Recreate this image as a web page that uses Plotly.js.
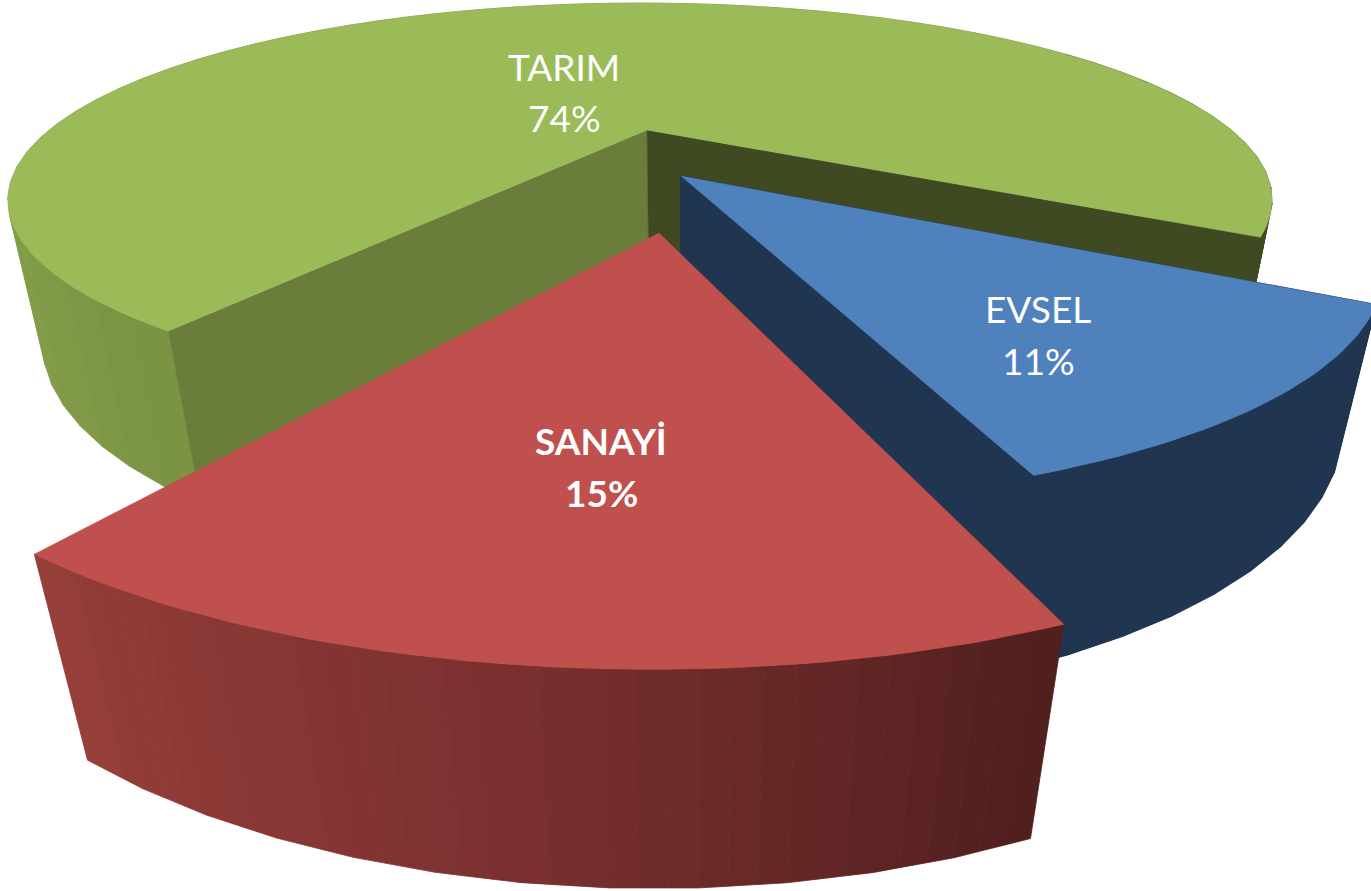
<!DOCTYPE html>
<html>
<head>
<meta charset="utf-8">
<script src="https://cdn.plot.ly/plotly-3.0.1.min.js"></script>
<style>html,body{margin:0;padding:0;background:#fff;overflow:hidden}#chart{width:1371px;height:891px}</style>
</head>
<body>
<div id="chart"></div>
<script>
// Data
const categories = ["TARIM", "EVSEL", "SANAYİ"];
const values = [74, 11, 15];

// Styles and placement
const topColors = ["#9bbb59", "#4f81bd", "#c0504d"];
const boldLabel = [false, false, true];
const labelCenterX = [564, 1038, 601];
const labelNameY = [66, 308, 440];
const labelPctY = [117, 360, 492];
const startAngle = 124.5;
const hubOffsets = [[0.0085, 0], [0.0603, 0.244], [0.0237, 0.494]];
const rimOffsets = [[-0.003, 0], [0.058, 0.228], [0.008, 0.484]];
const rimTurn = [-0.2, 0.3, -0.7];

// Camera (perspective projection of a flat-topped cylinder onto the page)
const cam = {X0: 642, Y0: 130, R: 591, B: 172, k: 0.355, mh: 0.0476, ah: 2.0, ch: 139.8};
function project(x, y, z) {
  const W = 1 - cam.k * y + cam.mh * z;
  return [cam.X0 + (cam.R * x + cam.ah * z) / W, cam.Y0 + (cam.B * y + cam.ch * z) / W];
}
const rad = d => d * Math.PI / 180;
function rim(i, deg, z) {
  const o = rimOffsets[i], t = deg + rimTurn[i];
  return project(o[0] + Math.cos(rad(t)), o[1] + Math.sin(rad(t)), z);
}
function hub(i, z) { const o = hubOffsets[i]; return project(o[0], o[1], z); }
function lerpColor(stops, t) {
  t = Math.max(0, Math.min(1, t)) * (stops.length - 1);
  const n = Math.min(Math.floor(t), stops.length - 2), f = t - n;
  const c = stops[n].map((v, j) => Math.round(v + (stops[n + 1][j] - v) * f));
  return `rgb(${c[0]},${c[1]},${c[2]})`;
}
function poly(points, color, name, lw) {
  return {
    type: "scatter", mode: "lines", fill: "toself", fillcolor: color,
    x: points.map(p => p[0]).concat([points[0][0]]),
    y: points.map(p => p[1]).concat([points[0][1]]),
    line: {color: color, width: lw === undefined ? 0.5 : lw}, hoverinfo: "skip", showlegend: false, name: name
  };
}

// Angular spans from the values
const spans = [];
let a = startAngle;
values.forEach(v => { spans.push([a, a + v / 100 * 360]); a += v / 100 * 360; });

// Outer wall: faceted bottom edge, colour bands drawn back to front
function arcWall(i, colorAt, bandsPerFacet, lw) {
  const step = 4.5;
  const [s, e] = spans[i];
  const n = Math.ceil((e - s) / step);
  if (!bandsPerFacet) {
    const base = [];
    for (let j = 0; j <= n; j++) base.push(rim(i, s + (e - s) * j / n, 0));
    for (let j = n; j >= 0; j--) base.push(rim(i, s + (e - s) * j / n, 1));
    return [poly(base, colorAt((s + e) / 2), categories[i], lw)];
  }
  const bands = [];
  for (let j = 0; j < n; j++) {
    const d1 = s + (e - s) * j / n, d2 = s + (e - s) * (j + 1) / n;
    const t1 = rim(i, d1, 0), t2 = rim(i, d2, 0), b1 = rim(i, d1, 1), b2 = rim(i, d2, 1);
    for (let b = 0; b < bandsPerFacet; b++) {
      const f1 = b / bandsPerFacet, f2 = (b + 1) / bandsPerFacet;
      const mix = (p, q, f) => [p[0] + (q[0] - p[0]) * f, p[1] + (q[1] - p[1]) * f];
      const mid = d1 + (d2 - d1) * (f1 + f2) / 2;
      bands.push({depth: Math.sin(rad(mid)), trace: poly(
        [mix(t1, t2, f1), mix(t1, t2, f2), mix(b1, b2, f2), mix(b1, b2, f1)],
        colorAt(mid), categories[i], lw)});
    }
  }
  bands.sort((p, q) => p.depth - q.depth);
  return bands.map(b => b.trace);
}
function cutWall(i, deg, color, lw) {
  return poly([hub(i, 0), rim(i, deg, 0), rim(i, deg, 1), hub(i, 1)], color, categories[i], lw);
}
function topFace(i) {
  const pts = [hub(i, 0)];
  const [s, e] = spans[i];
  const n = Math.ceil(e - s);
  for (let j = 0; j <= n; j++) pts.push(rim(i, s + (e - s) * j / n, 0));
  return poly(pts, topColors[i], categories[i]);
}

const greenStops = [[122, 147, 68], [137, 163, 76]];
const redStops = [[79, 31, 30], [122, 48, 47], [150, 62, 58]];
const greenWall = d => d > 330 ? "#3f4a22" : d > 172 ? "#7a9343" : lerpColor(greenStops, (d - 124.5) / 45);
const traces = [];
// TARIM
traces.push(...arcWall(0, greenWall, 1, 0.8));
traces.push(cutWall(0, spans[0][0], "#6a7d3b"));
traces.push(cutWall(0, spans[0][1], "#3f4a22"));
traces.push(topFace(0));
// EVSEL
traces.push(cutWall(1, spans[1][0], "#1f3550", 1.2));
traces.push(...arcWall(1, () => "#1f3550", 0, 1.2));
traces.push(cutWall(1, spans[1][1], "#1f3550", 1.2));
traces.push(topFace(1));
// SANAYİ
traces.push(...arcWall(2, d => lerpColor(redStops, (d - spans[2][0]) / (spans[2][1] - spans[2][0])), 3, 0.8));
traces.push(topFace(2));

function label(i, text, y) {
  return {
    xref: "x", yref: "y", x: labelCenterX[i], y: y,
    text: boldLabel[i] ? "<b>" + text + "</b>" : text,
    showarrow: false, align: "center", xanchor: "center", yanchor: "middle",
    font: {family: "Lato, 'Open Sans', sans-serif", size: 37, color: "#ffffff"}
  };
}
const annotations = [];
categories.forEach((c, i) => {
  annotations.push(label(i, c, labelNameY[i]));
  annotations.push(label(i, values[i] + "%", labelPctY[i]));
});

const hidden = {visible: false, fixedrange: true};
Plotly.newPlot("chart", traces, {
  width: 1371, height: 891,
  margin: {l: 0, r: 0, t: 0, b: 0, pad: 0},
  paper_bgcolor: "#ffffff", plot_bgcolor: "#ffffff",
  xaxis: Object.assign({range: [0, 1371]}, hidden),
  yaxis: Object.assign({range: [891, 0]}, hidden),
  showlegend: false, hovermode: false,
  annotations: annotations
}, {displayModeBar: false, staticPlot: true});
</script>
</body>
</html>
